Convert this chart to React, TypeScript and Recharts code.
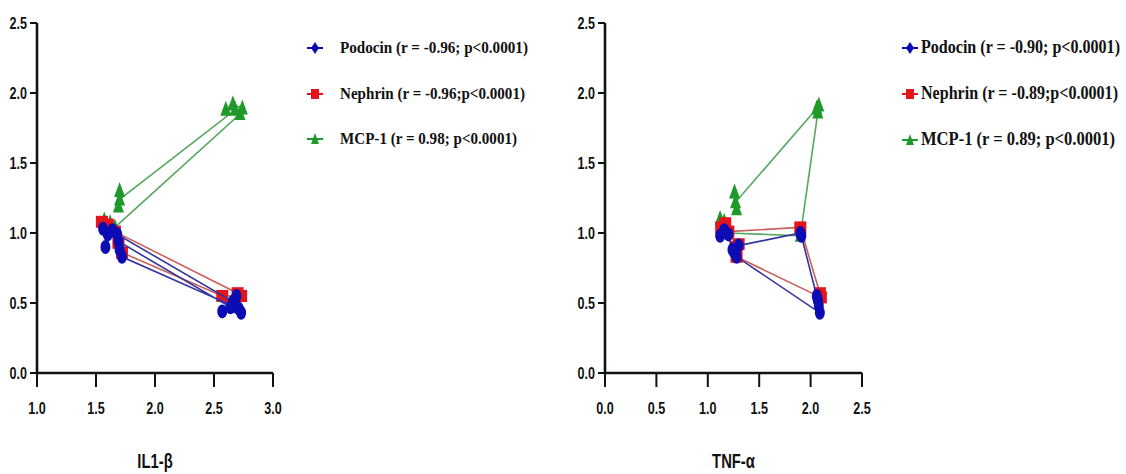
import React from "react";
import { Scatter, ScatterChart, XAxis, YAxis } from "recharts";

type Pt = { x: number; y: number };

// IL1-β panel
const il1Podocin: Pt[] = [
  { x: 1.56, y: 1.03 }, { x: 1.6, y: 0.99 }, { x: 1.58, y: 0.9 }, { x: 1.64, y: 1.02 },
  { x: 1.68, y: 0.99 }, { x: 2.66, y: 0.51 }, { x: 2.69, y: 0.55 }, { x: 2.64, y: 0.47 },
  { x: 1.69, y: 0.94 }, { x: 1.7, y: 0.88 }, { x: 1.72, y: 0.83 }, { x: 2.71, y: 0.46 },
  { x: 2.73, y: 0.43 }, { x: 2.57, y: 0.44 },
];
const il1Nephrin: Pt[] = [
  { x: 1.55, y: 1.08 }, { x: 1.6, y: 1.06 }, { x: 1.66, y: 1.01 }, { x: 2.7, y: 0.57 },
  { x: 2.73, y: 0.55 }, { x: 2.57, y: 0.55 }, { x: 1.72, y: 0.86 }, { x: 1.69, y: 0.93 },
];
const il1Mcp1: Pt[] = [
  { x: 1.57, y: 1.09 }, { x: 1.62, y: 1.07 }, { x: 1.66, y: 1.04 }, { x: 2.72, y: 1.85 },
  { x: 2.74, y: 1.89 }, { x: 2.66, y: 1.92 }, { x: 2.6, y: 1.88 }, { x: 2.68, y: 1.88 },
  { x: 1.7, y: 1.24 }, { x: 1.7, y: 1.3 }, { x: 1.69, y: 1.19 },
];

// TNF-α panel
const tnfPodocin: Pt[] = [
  { x: 1.12, y: 0.98 }, { x: 1.16, y: 1.02 }, { x: 1.2, y: 0.99 }, { x: 1.24, y: 0.88 },
  { x: 1.3, y: 0.91 }, { x: 1.9, y: 1.0 }, { x: 1.91, y: 0.98 }, { x: 2.07, y: 0.52 },
  { x: 2.08, y: 0.48 }, { x: 2.06, y: 0.55 }, { x: 2.09, y: 0.43 }, { x: 1.28, y: 0.83 },
  { x: 1.26, y: 0.86 },
];
const tnfNephrin: Pt[] = [
  { x: 1.13, y: 1.04 }, { x: 1.17, y: 1.07 }, { x: 1.2, y: 1.01 }, { x: 1.9, y: 1.04 },
  { x: 2.09, y: 0.57 }, { x: 2.1, y: 0.54 }, { x: 1.28, y: 0.83 }, { x: 1.27, y: 0.9 },
  { x: 1.3, y: 0.92 },
];
const tnfMcp1: Pt[] = [
  { x: 1.12, y: 1.1 }, { x: 1.16, y: 1.08 }, { x: 1.2, y: 1.0 }, { x: 1.9, y: 0.98 },
  { x: 2.07, y: 1.86 }, { x: 2.08, y: 1.91 }, { x: 2.06, y: 1.89 }, { x: 1.27, y: 1.22 },
  { x: 1.26, y: 1.29 }, { x: 1.28, y: 1.17 },
];

const yTicks = [0, 0.5, 1, 1.5, 2, 2.5];
const il1Ticks = [1, 1.5, 2, 2.5, 3];
const tnfTicks = [0, 0.5, 1, 1.5, 2, 2.5];

const il1Legend = [
  "Podocin (r = -0.96; p<0.0001)",
  "Nephrin (r = -0.96;p<0.0001)",
  "MCP-1 (r = 0.98; p<0.0001)",
];
const tnfLegend = [
  "Podocin (r = -0.90; p<0.0001)",
  "Nephrin (r = -0.89;p<0.0001)",
  "MCP-1 (r = 0.89; p<0.0001)",
];

const BLUE = "#0c0cb4";
const RED = "#e3141c";
const GREEN = "#1f9a2a";
const BLUE_LINE = "#34349c";
const RED_LINE = "#c8605c";
const GREEN_LINE = "#55a860";

const axisFont = '"Liberation Sans", Arial, sans-serif';
const legendFont = '"Liberation Serif", "DejaVu Serif", serif';

function Dot(props: any) {
  const { cx, cy } = props;
  return <ellipse cx={cx} cy={cy} rx={5} ry={7} fill={BLUE} />;
}
function Square(props: any) {
  const { cx, cy } = props;
  return <rect x={cx - 6} y={cy - 6} width={12} height={12} fill={RED} />;
}
function Tri(props: any) {
  const { cx, cy } = props;
  return <path d={`M${cx},${cy - 9} L${cx + 5.5},${cy + 6} L${cx - 5.5},${cy + 6} Z`} fill={GREEN} />;
}

// condensed bold labels (the source uses a narrow sans)
function Narrow(props: { x: number; y: number; anchor: string; size: number; children: React.ReactNode }) {
  const { x, y, anchor, size, children } = props;
  return (
    <text
      transform={`translate(${x},${y}) scale(0.74,1)`}
      textAnchor={anchor as any}
      fontFamily={axisFont}
      fontWeight="bold"
      fontSize={size}
      fill="#111"
    >
      {children}
    </text>
  );
}

function XTick(props: any) {
  const { x, payload } = props;
  return (
    <Narrow x={x} y={414} anchor="middle" size={17}>
      {Number(payload.value).toFixed(1)}
    </Narrow>
  );
}
function YTick(props: any) {
  const { x, y, payload } = props;
  return (
    <Narrow x={x - 1} y={y + 6} anchor="end" size={17}>
      {Number(payload.value).toFixed(1)}
    </Narrow>
  );
}

function Panel(props: {
  left: number;
  width: number;
  yWidth: number;
  right: number;
  domain: [number, number];
  ticks: number[];
  title: string;
  podocin: Pt[];
  nephrin: Pt[];
  mcp1: Pt[];
}) {
  const { left, width, yWidth, right, domain, ticks, title, podocin, nephrin, mcp1 } = props;
  return (
    <div style={{ position: "absolute", left, top: 0 }}>
      <ScatterChart width={width} height={474} margin={{ top: 23, right, bottom: 0, left: 0 }}>
        <XAxis
          type="number"
          dataKey="x"
          domain={domain}
          ticks={ticks}
          interval={0}
          height={101}
          tickSize={14}
          axisLine={{ stroke: "#111", strokeWidth: 2.6 }}
          tickLine={{ stroke: "#111", strokeWidth: 2 }}
          tick={<XTick />}
          label={{
            content: (p: any) => (
              <Narrow x={p.viewBox.x + p.viewBox.width / 2} y={468} anchor="middle" size={20}>
                {title}
              </Narrow>
            ),
          }}
        />
        <YAxis
          type="number"
          dataKey="y"
          domain={[0, 2.5]}
          ticks={yTicks}
          interval={0}
          width={yWidth}
          tickSize={7}
          axisLine={{ stroke: "#111", strokeWidth: 2.6 }}
          tickLine={{ stroke: "#111", strokeWidth: 2 }}
          tick={<YTick />}
        />
        <Scatter
          data={mcp1}
          fill={GREEN}
          line={{ stroke: GREEN_LINE, strokeWidth: 1.6 }}
          lineType="joint"
          shape={<Tri />}
          isAnimationActive={false}
        />
        <Scatter
          data={nephrin}
          fill={RED}
          line={{ stroke: RED_LINE, strokeWidth: 1.6 }}
          lineType="joint"
          shape={<Square />}
          isAnimationActive={false}
        />
        <Scatter
          data={podocin}
          fill={BLUE}
          line={{ stroke: BLUE_LINE, strokeWidth: 1.6 }}
          lineType="joint"
          shape={<Dot />}
          isAnimationActive={false}
        />
      </ScatterChart>
    </div>
  );
}

function LegendIcon({ kind, x, y }: { kind: number; x: number; y: number }) {
  const color = [BLUE, RED, GREEN][kind];
  return (
    <g>
      <line x1={x - 8} x2={x + 8} y1={y} y2={y} stroke={color} strokeWidth={2} />
      {kind === 0 && <path d={`M${x},${y - 6} L${x + 4},${y} L${x},${y + 6} L${x - 4},${y} Z`} fill={color} />}
      {kind === 1 && <rect x={x - 4} y={y - 5} width={8} height={10} fill={color} />}
      {kind === 2 && <path d={`M${x},${y - 6} L${x + 4},${y + 5} L${x - 4},${y + 5} Z`} fill={color} />}
    </g>
  );
}

const LEGEND_SCALE = 0.9;

function LegendBlock(props: {
  labels: string[];
  iconX: number;
  textX: number;
  rows: number[];
  widths: number[];
  fontSize: number;
}) {
  const { labels, iconX, textX, rows, widths, fontSize } = props;
  return (
    <g>
      {labels.map((label, i) => (
        <g key={label}>
          <LegendIcon kind={i} x={iconX} y={rows[i] + 1} />
          <text
            transform={`translate(${textX},${rows[i] + fontSize * 0.35}) scale(${LEGEND_SCALE},1)`}
            fontFamily={legendFont}
            fontWeight="bold"
            fontSize={fontSize}
            fill="#111"
            textLength={widths[i] / LEGEND_SCALE}
            lengthAdjust="spacingAndGlyphs"
          >
            {label}
          </text>
        </g>
      ))}
    </g>
  );
}

export default function App() {
  return (
    <div style={{ position: "absolute", left: 0, top: 0, width: 1126, height: 474, background: "#fff" }}>
      <Panel
        left={0}
        width={300}
        yWidth={37}
        right={27}
        domain={[1, 3]}
        ticks={il1Ticks}
        title="IL1-β"
        podocin={il1Podocin}
        nephrin={il1Nephrin}
        mcp1={il1Mcp1}
      />
      <Panel
        left={560}
        width={320}
        yWidth={45}
        right={18}
        domain={[0, 2.5]}
        ticks={tnfTicks}
        title="TNF-α"
        podocin={tnfPodocin}
        nephrin={tnfNephrin}
        mcp1={tnfMcp1}
      />
      <svg
        width={1126}
        height={474}
        style={{ position: "absolute", left: 0, top: 0, pointerEvents: "none" }}
      >
        <LegendBlock
          labels={il1Legend}
          iconX={315}
          textX={340}
          rows={[47, 93, 138]}
          widths={[188, 185, 177]}
          fontSize={16}
        />
        <LegendBlock
          labels={tnfLegend}
          iconX={910}
          textX={921}
          rows={[47, 93, 139]}
          widths={[199, 197, 194]}
          fontSize={18}
        />
      </svg>
    </div>
  );
}
